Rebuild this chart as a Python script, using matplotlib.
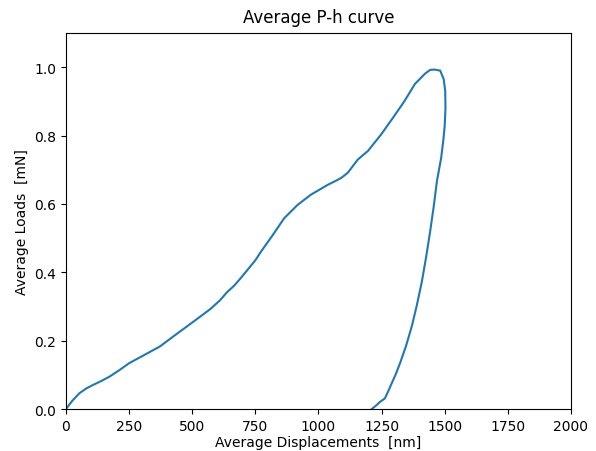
import matplotlib
matplotlib.use('Agg')
import matplotlib.pyplot as plt

# loading branch (displacement nm, load mN)
load_h = [0, 25, 53, 80, 106, 140, 173, 210, 250, 310, 372, 430, 500, 571, 610, 638, 665,
          691, 750, 771, 820, 864, 917, 970, 1037, 1070, 1090, 1116, 1156, 1196, 1249, 1296,
          1340, 1382, 1422, 1442, 1459, 1482]
load_P = [0, 0.024, 0.046, 0.060, 0.070, 0.082, 0.095, 0.113, 0.134, 0.158, 0.183, 0.215,
          0.253, 0.292, 0.318, 0.342, 0.360, 0.382, 0.435, 0.459, 0.510, 0.558, 0.597, 0.627,
          0.656, 0.668, 0.676, 0.691, 0.730, 0.755, 0.804, 0.853, 0.900, 0.951, 0.981, 0.992,
          0.993, 0.990]

# unloading branch
unload_h = [1482, 1496, 1502, 1503, 1500, 1495, 1486, 1469, 1456, 1442, 1426, 1409, 1390,
            1370, 1347, 1323, 1305, 1290, 1275, 1263, 1244, 1228, 1211]
unload_P = [0.990, 0.965, 0.930, 0.880, 0.830, 0.790, 0.735, 0.666, 0.590, 0.518, 0.443,
            0.371, 0.305, 0.243, 0.185, 0.134, 0.100, 0.075, 0.050, 0.031, 0.021, 0.010, 0.0]

fig = plt.figure(figsize=(5.96, 4.52), dpi=100)
ax = fig.add_axes([0.1107, 0.0929, 0.8473, 0.8319])
ax.plot(load_h + unload_h, load_P + unload_P, color='#1f77b4')
ax.set_xlim(0, 2000)
ax.set_ylim(0, 1.1)
ax.set_xlabel('Average Displacements  [nm]', labelpad=1.5)
ax.set_ylabel('Average Loads  [mN]')
ax.set_title('Average P-h curve', pad=8)
fig.savefig('out.png', dpi=100)
